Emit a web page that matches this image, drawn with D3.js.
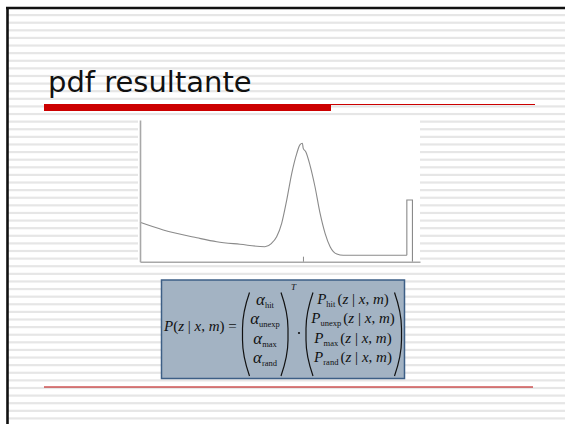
<!DOCTYPE html>
<html>
<head>
<meta charset="utf-8">
<script src="https://cdn.jsdelivr.net/npm/d3@7"></script>
<style>
  body { margin: 0; background: #fff; }
  svg { display: block; }
</style>
</head>
<body>
<svg width="565" height="424"></svg>
<script>
// resulting p(z | x, m)
var zValues = [0, 0.83, 2.03, 2.74, 3.57, 4.46, 4.70, 4.88, 5.06, 5.24, 5.42, 5.60, 5.71, 5.80, 5.83, 5.92, 6.07, 6.25, 6.43, 6.61, 6.79, 7.03, 7.26, 9.53];
var pValues = [0.278, 0.224, 0.169, 0.141, 0.123, 0.106, 0.130, 0.176, 0.271, 0.435, 0.624, 0.765, 0.824, 0.836, 0.800, 0.776, 0.682, 0.529, 0.342, 0.200, 0.106, 0.054, 0.045, 0.045];
// max-range spike
var spikeZ = [9.53, 9.53, 9.73, 9.73];
var spikeP = [0.045, 0.435, 0.435, 0];
var tickZ = [5.82];
var alphaSubs = ['hit', 'unexp', 'max', 'rand'];
var title = 'pdf resultante';

var svg = d3.select('svg');

// slide background: stripes + frame
svg.selectAll('rect.stripe')
    .data(d3.range(0, 56))
    .enter().append('rect')
    .attr('class', 'stripe')
    .attr('x', 8)
    .attr('y', k => 14 + k * 7.61)
    .attr('width', 565)
    .attr('height', 2.2)
    .attr('fill', '#e6e6e6');

svg.append('line').attr('x1', 6).attr('x2', 565).attr('y1', 8).attr('y2', 8)
    .attr('stroke', '#111').attr('stroke-width', 2.6);
svg.append('line').attr('x1', 7.5).attr('x2', 7.5).attr('y1', 7).attr('y2', 424)
    .attr('stroke', '#111').attr('stroke-width', 2.6);

// title
svg.append('text')
    .attr('x', 48)
    .attr('y', 92)
    .attr('font-family', 'DejaVu Sans, Verdana, sans-serif')
    .attr('font-size', 29)
    .attr('fill', '#111')
    .text(title);

svg.append('rect').attr('x', 44).attr('y', 104).attr('width', 287).attr('height', 7).attr('fill', '#cc0000');
svg.append('line').attr('x1', 331).attr('x2', 535).attr('y1', 104.5).attr('y2', 104.5)
    .attr('stroke', '#cc0000').attr('stroke-width', 1);
svg.append('line').attr('x1', 44).attr('x2', 533).attr('y1', 387).attr('y2', 387)
    .attr('stroke', '#b80000').attr('stroke-width', 1);

// chart
svg.append('rect').attr('x', 138).attr('y', 119).attr('width', 282).attr('height', 145).attr('fill', '#fff');

var xScale = d3.scaleLinear().domain([0, 10]).range([140, 420]);
var yScale = d3.scaleLinear().domain([0, 1]).range([261.7, 120]);

var pts = zValues.map((z, i) => [z, pValues[i]]);
var spike = spikeZ.map((z, i) => [z, spikeP[i]]);

var line = d3.line()
    .x(d => xScale(d[0]))
    .y(d => yScale(d[1]));

svg.append('path')
    .datum(pts)
    .attr('d', line.curve(d3.curveMonotoneX))
    .attr('fill', 'none')
    .attr('stroke', '#8a8a8a')
    .attr('stroke-width', 1.1);

svg.append('path')
    .datum(spike)
    .attr('d', line.curve(d3.curveLinear))
    .attr('fill', 'none')
    .attr('stroke', '#8a8a8a')
    .attr('stroke-width', 1.1);

var xAxis = d3.axisBottom(xScale)
    .tickValues(tickZ)
    .tickSizeInner(-5)
    .tickSizeOuter(0)
    .tickFormat('');
var yAxis = d3.axisLeft(yScale)
    .tickValues([])
    .tickSizeOuter(0);

var gx = svg.append('g')
    .attr('transform', 'translate(0,' + yScale(0) + ')')
    .call(xAxis);
var gy = svg.append('g')
    .attr('transform', 'translate(' + xScale(0) + ',0)')
    .call(yAxis);
[gx, gy].forEach(g => {
    g.select('.domain').attr('stroke', '#a8a8a8').attr('stroke-width', 1.6);
    g.selectAll('.tick line').attr('stroke', '#8a8a8a');
});

// formula box
var serif = 'Liberation Serif, Times New Roman, serif';
svg.append('rect')
    .attr('x', 161.5).attr('y', 280).attr('width', 243).attr('height', 98.5)
    .attr('fill', '#a3b3c3').attr('stroke', '#3d5f86').attr('stroke-width', 1.5);

var f = svg.append('g').attr('font-family', serif).attr('fill', '#111');

function cond(t, dy) {
    t.append('tspan').attr('dy', dy).text('(');
    t.append('tspan').attr('font-style', 'italic').text('z');
    t.append('tspan').text(' | ');
    t.append('tspan').attr('font-style', 'italic').text('x');
    t.append('tspan').text(', ');
    t.append('tspan').attr('font-style', 'italic').text('m');
    t.append('tspan').text(')');
}

var lhs = f.append('text').attr('x', 164).attr('y', 331).attr('font-size', 15);
lhs.append('tspan').attr('font-style', 'italic').text('P');
cond(lhs, 0);
lhs.append('tspan').text(' =');

function paren(x, top, bottom, dir) {
    var w = 7 * dir;
    var p = d3.path();
    p.moveTo(x + w, top);
    p.bezierCurveTo(x + w * 0.3, top + 14, x, top + 26, x, top + 36);
    p.lineTo(x, bottom - 36);
    p.bezierCurveTo(x, bottom - 26, x + w * 0.3, bottom - 14, x + w, bottom);
    f.append('path').attr('d', p.toString())
        .attr('fill', 'none').attr('stroke', '#111').attr('stroke-width', 1.2);
}
paren(242.5, 292.5, 376, 1);
paren(288, 292.5, 376, -1);
paren(306, 292.5, 376, 1);
paren(401.5, 292.5, 376, -1);

var rows = [305, 324.4, 343.9, 363.3];

alphaSubs.forEach((s, i) => {
    var t = f.append('text').attr('x', 265).attr('y', rows[i])
        .attr('text-anchor', 'middle').attr('font-size', 17);
    t.append('tspan').attr('font-style', 'italic').text('α');
    t.append('tspan').attr('font-size', 8.5).attr('dy', 3).text(s);
});

alphaSubs.forEach((s, i) => {
    var t = f.append('text').attr('x', 353).attr('y', rows[i] - 1)
        .attr('text-anchor', 'middle').attr('font-size', 15);
    t.append('tspan').attr('font-style', 'italic').text('P');
    t.append('tspan').attr('font-size', 8.5).attr('dy', 3).text(s + ' ');
    cond(t, -3);
});

f.append('text').attr('x', 291).attr('y', 290).attr('font-size', 9)
    .attr('font-style', 'italic').text('T');
f.append('circle').attr('cx', 299).attr('cy', 333).attr('r', 1.1).attr('fill', '#111');
</script>
</body>
</html>
